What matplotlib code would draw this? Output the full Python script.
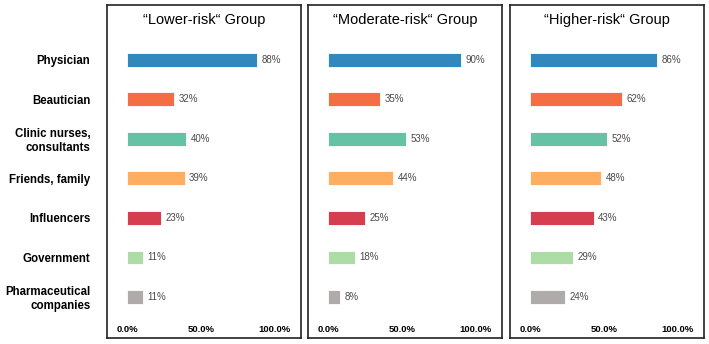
import matplotlib.pyplot as plt
from matplotlib.ticker import PercentFormatter

plt.rcParams['font.family'] = ['Liberation Sans', 'DejaVu Sans']

# Data
categories = ['Physician', 'Beautician', 'Clinic nurses,\nconsultants', 'Friends, family',
              'Influencers', 'Government', 'Pharmaceutical\ncompanies']
groups = ['\u201cLower-risk\u201c Group', '\u201cModerate-risk\u201c Group', '\u201cHigher-risk\u201c Group']
lower_risk = [88, 32, 40, 39, 23, 11, 11]
moderate_risk = [90, 35, 53, 44, 25, 18, 8]
higher_risk = [86, 62, 52, 48, 43, 29, 24]
ticks = [0, 50, 100]

colors = ['#3288BD', '#F46D43', '#66C2A5', '#FDAE61', '#D53E4F', '#ABDDA4', '#B0ABAB']

fig = plt.figure(figsize=(7.09, 3.44), dpi=100)
lefts = [107 / 709, 308 / 709, 510 / 709]
width = 194 / 709
bottom = 1 - 338 / 344
height = 333 / 344

for i, (title, values) in enumerate(zip(groups, [lower_risk, moderate_risk, higher_risk])):
    ax = fig.add_axes([lefts[i], bottom, width, height])
    ypos = list(range(len(categories)))
    ax.barh(ypos, values, height=0.35, color=colors, edgecolor='white', linewidth=0.6)
    for y, v in zip(ypos, values):
        ax.text(v + 3, y, f'{v}%', va='center', ha='left', fontsize=7, color='#4a4a4a')

    ax.set_xlim(-13.5, 117.6)
    ax.set_ylim(7.04, -1.39)
    ax.set_xticks(ticks)
    ax.xaxis.set_major_formatter(PercentFormatter(decimals=1))
    ax.tick_params(axis='x', length=0, pad=-9, labelsize=6.8)
    for lbl in ax.get_xticklabels():
        lbl.set_fontweight('bold')

    ax.set_yticks(ypos)
    if i == 0:
        ax.set_yticklabels(categories, fontsize=8.3, fontweight='bold', ha='right')
        ax.tick_params(axis='y', length=0, pad=12)
    else:
        ax.set_yticklabels([])
        ax.tick_params(axis='y', length=0)

    for s in ax.spines.values():
        s.set_linewidth(1.2)
        s.set_color('#222222')

    ax.text(0.5, 0.955, title, transform=ax.transAxes, ha='center', va='center', fontsize=10.5)

fig.savefig('out.png', dpi=100)
